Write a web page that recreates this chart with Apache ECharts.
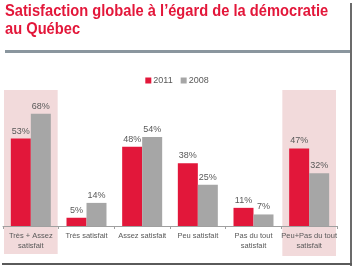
<!DOCTYPE html>
<html>
<head>
<meta charset="utf-8">
<script src="https://cdn.jsdelivr.net/npm/echarts@6/dist/echarts.min.js"></script>
<style>
  html, body { margin: 0; padding: 0; background: #fff; }
  #chart { width: 354px; height: 268px; }
</style>
</head>
<body>
<div id="chart"></div>
<script>
const titleText = 'Satisfaction globale à l’égard de la démocratie\nau Québec'
const categories = [
  'Très + Assez\nsatisfait',
  'Très satisfait',
  'Assez satisfait',
  'Peu satisfait',
  'Pas du tout\nsatisfait',
  'Peu+Pas du tout\nsatisfait'
]
const values2011 = [53, 5, 48, 38, 11, 47]
const values2008 = [68, 14, 54, 25, 7, 32]
const highlighted = [0, 5]

const font = 'Liberation Sans'

const chart = echarts.init(document.getElementById('chart'))

const labelStyle = {
  show: true,
  position: 'top',
  distance: 3,
  formatter: '{c}%',
  color: '#595959',
  fontSize: 9,
  fontFamily: font
}

const option = {
  animation: false,
  backgroundColor: '#fff',
  legend: {
    top: 71,
    left: 'center',
    icon: 'rect',
    itemWidth: 6,
    itemHeight: 6,
    itemGap: 8,
    textStyle: { color: '#595959', fontSize: 9, fontFamily: font, padding: [0, 0, 0, -3] }
  },
  grid: { left: 3, right: 17, top: 61, bottom: 42 },
  xAxis: {
    type: 'category',
    data: categories,
    axisLine: { lineStyle: { color: '#a0a0a0' } },
    axisTick: { show: true, length: 3, lineStyle: { color: '#a0a0a0' } },
    axisLabel: {
      color: '#595959',
      fontSize: 7.5,
      fontFamily: font,
      lineHeight: 10,
      margin: 5,
      interval: 0
    }
  },
  yAxis: {
    type: 'value',
    min: 0,
    max: 100,
    show: false,
    splitLine: { show: false }
  },
  series: [
    {
      name: '2011',
      type: 'bar',
      data: values2011,
      barWidth: 20,
      barGap: '0%',
      itemStyle: { color: '#e2173a' },
      label: labelStyle
    },
    {
      name: '2008',
      type: 'bar',
      data: values2008,
      barWidth: 20,
      itemStyle: { color: '#a6a6a6' },
      label: labelStyle
    }
  ]
}

chart.setOption(option)

// highlight bands behind the first and last categories
const bandW = chart.convertToPixel({ xAxisIndex: 0 }, categories[1]) - chart.convertToPixel({ xAxisIndex: 0 }, categories[0])
const bands = highlighted.map((i) => {
  const cx = chart.convertToPixel({ xAxisIndex: 0 }, categories[i])
  return {
    type: 'rect',
    z: -10,
    shape: { x: cx - bandW / 2 + 1, y: 90, width: bandW - 2, height: i === 0 ? 164 : 166 },
    style: { fill: '#f2dadb' },
    silent: true
  }
})

chart.setOption({
  graphic: [
    ...bands,
    // title, squeezed a bit like the narrow original face
    {
      type: 'text',
      x: 5,
      y: 2,
      scaleX: 0.89,
      style: {
        text: titleText,
        fill: '#e3173a',
        font: 'bold 16.5px "Liberation Sans"',
        lineHeight: 18
      },
      silent: true
    },
    { type: 'rect', shape: { x: 5, y: 50, width: 345, height: 3 }, style: { fill: '#8a969e' }, silent: true },
    { type: 'rect', shape: { x: 350, y: 3, width: 2, height: 263 }, style: { fill: '#6b6b6b' }, silent: true },
    { type: 'rect', shape: { x: 2, y: 263, width: 350, height: 2 }, style: { fill: '#5a5a5a' }, silent: true }
  ]
})

window.addEventListener('resize', () => {
  chart.resize()
})
</script>
</body>
</html>
